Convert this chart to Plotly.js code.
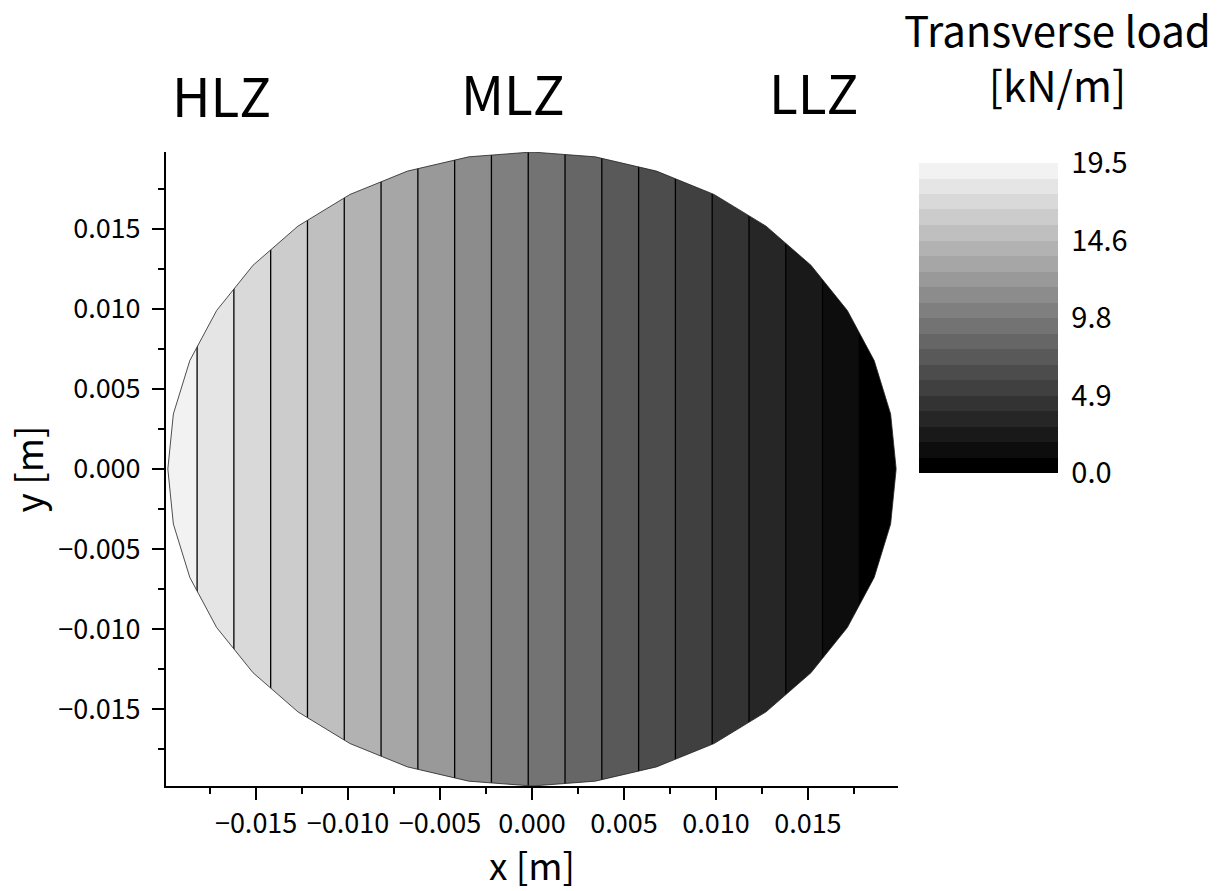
<!DOCTYPE html>
<html>
<head>
<meta charset="utf-8">
<script src="https://cdn.plot.ly/plotly-3.0.1.min.js"></script>
<style>
  html, body { margin: 0; padding: 0; background: #ffffff; }
  #chart { width: 1226px; height: 891px; }
</style>
</head>
<body>
<div id="chart"></div>
<script>
// ---------------- data ----------------
// transverse load varies linearly across the disc along x
const loadX = [-0.0198, 0.0198];          // x [m] at the disc edges
const loadY = [-0.0198, 0.0198];          // y [m] extent of the field
const loadAlongX = [19.3, 0.0];           // transverse load [kN/m] at loadX
const discRadius = 0.0198;                // disc radius [m]
const discSides = 36;                     // facets of the meshed disc outline
const levelStart = 0.975;                 // first contour level [kN/m]
const levelEnd = 18.525;                  // last contour level [kN/m]
const levelSize = 0.975;                  // contour spacing [kN/m]
const colorMin = 0.0;
const colorMax = 19.5;
const cbTickVals = [0.0, 4.875, 9.75, 14.625, 19.5];
const cbTickText = ['0.0', '4.9', '9.8', '14.6', '19.5'];
const zoneLabels = ['HLZ', 'MLZ', 'LLZ'];
const colorbarTitleLines = ['Transverse load', '[kN/m]'];
const xTitle = 'x [m]';
const yTitle = 'y [m]';

// ---------------- derived structures ----------------
const FONT = '"Noto Sans CJK JP", "Noto Sans", sans-serif';
const loadZ = loadY.map(() => loadAlongX.slice());

// grey ramp: black (low) to light grey (high)
const nBands = Math.round((colorMax - colorMin) / levelSize);
const greyOf = k => { const g = Math.round(242 * k / (nBands - 1)); return `rgb(${g},${g},${g})`; };
const linearScale = [[0, greyOf(0)], [1, greyOf(nBands - 1)]];
const steppedScale = [];
for (let k = 0; k < nBands; k++) {
  steppedScale.push([k / nBands, greyOf(k)]);
  steppedScale.push([(k + 1) / nBands, greyOf(k)]);
}

// disc outline polygon
const circX = [], circY = [];
for (let i = 0; i <= discSides; i++) {
  const t = -2 * Math.PI * i / discSides;
  circX.push(discRadius * Math.cos(t));
  circY.push(discRadius * Math.sin(t));
}
// white mask outside the disc (keyhole polygon)
const OUT = discRadius * 3;
const maskX = [OUT, OUT, -OUT, -OUT, OUT, OUT].concat(circX).concat([OUT]);
const maskY = [0, OUT, OUT, -OUT, -OUT, 0].concat(circY).concat([0]);

// ---------------- layout geometry helpers ----------------
const M = { l: 166, r: 328, t: 152, b: 105 };
const W = 1226, H = 891;
const PW = W - M.l - M.r, PH = H - M.t - M.b;
const px2x = px => (px - M.l) / PW;
const py2y = py => (H - M.b - py) / PH;

const traces = [
  {
    type: 'contour',
    x: loadX, y: loadY, z: loadZ,
    autocontour: false,
    contours: { start: levelStart, end: levelEnd, size: levelSize, coloring: 'fill', showlines: true },
    colorscale: linearScale,
    line: { color: '#000000', width: 1.3, smoothing: 0 },
    showscale: false,
    hoverinfo: 'skip'
  },
  {
    // invisible carrier of the discrete colour bar
    type: 'heatmap',
    x: loadX, y: loadY, z: loadZ,
    zmin: colorMin, zmax: colorMax,
    colorscale: steppedScale,
    opacity: 0,
    hoverinfo: 'skip',
    showscale: true,
    colorbar: {
      thickness: 139, thicknessmode: 'pixels',
      len: 310, lenmode: 'pixels',
      x: px2x(919), xanchor: 'left', xpad: 0,
      y: py2y(163), yanchor: 'top', ypad: 0,
      outlinewidth: 0, borderwidth: 0,
      tickmode: 'array', tickvals: cbTickVals, ticktext: cbTickText,
      ticks: 'outside', ticklen: 8, tickcolor: 'rgba(0,0,0,0)',
      tickfont: { family: FONT, size: 29, color: '#000000' }
    }
  },
  {
    type: 'scatter', mode: 'lines',
    x: maskX, y: maskY,
    fill: 'toself', fillcolor: '#ffffff',
    line: { width: 0, color: 'rgba(0,0,0,0)' },
    hoverinfo: 'skip', showlegend: false
  },
  {
    type: 'scatter', mode: 'lines',
    x: circX, y: circY,
    line: { width: 0.8, color: '#222222' },
    hoverinfo: 'skip', showlegend: false
  }
];

const annFont = size => ({ family: FONT, size: size, color: '#000000' });
const zoneX = [221, 513, 813.5];
const zoneY = [94.5, 91.7, 91];
const annotations = zoneLabels.map((t, i) => ({
  text: t, xref: 'paper', yref: 'paper',
  x: px2x(zoneX[i]), y: py2y(zoneY[i]),
  xanchor: 'center', yanchor: 'middle', showarrow: false,
  font: annFont(53)
}));
annotations.push({
  text: colorbarTitleLines.join('<br>'), xref: 'paper', yref: 'paper',
  x: px2x(1057), y: py2y(56), align: 'center',
  xanchor: 'center', yanchor: 'middle', showarrow: false,
  font: annFont(42)
});

const axisCommon = {
  showgrid: false, zeroline: false,
  showline: true, linecolor: '#000000', linewidth: 2,
  ticks: 'outside', ticklen: 12, tickwidth: 2, tickcolor: '#000000',
  dtick: 0.005, tick0: 0, tickformat: '.3f',
  tickfont: { family: FONT, size: 27, color: '#000000' },
  minor: { ticks: 'outside', ticklen: 6, tickwidth: 2, tickcolor: '#000000', dtick: 0.0025, tick0: 0, showgrid: false },
  fixedrange: true
};

const layout = {
  width: W, height: H,
  margin: M,
  paper_bgcolor: '#ffffff', plot_bgcolor: '#ffffff',
  showlegend: false,
  font: { family: FONT, color: '#000000' },
  xaxis: Object.assign({}, axisCommon, {
    range: [-0.0199, 0.0199],
    ticklabelstandoff: 1,
    title: { text: xTitle, font: { family: FONT, size: 37, color: '#000000' }, standoff: 18 }
  }),
  yaxis: Object.assign({}, axisCommon, {
    range: [-0.0198, 0.0198],
    ticklabelstandoff: 6,
    title: { text: yTitle, font: { family: FONT, size: 37, color: '#000000' }, standoff: 12 }
  }),
  annotations: annotations
};

Plotly.newPlot('chart', traces, layout, { displayModeBar: false, staticPlot: true });
</script>
</body>
</html>
